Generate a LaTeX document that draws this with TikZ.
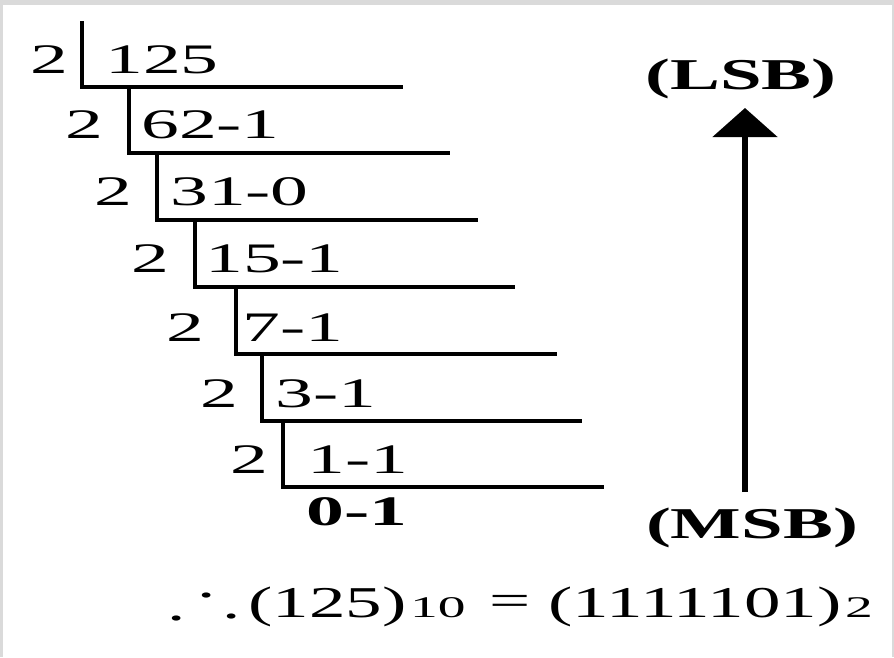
\documentclass[tikz,border=0pt]{standalone}
\usepackage{fontspec}
\setmainfont{Liberation Serif}
\newfontfamily\numfont[FakeStretch=1.8]{Liberation Serif}
\newfontfamily\labfont[FakeStretch=1.7]{Liberation Serif}
\newfontfamily\eqfont[FakeStretch=1.66]{Liberation Serif}
\newfontfamily\subfont[FakeStretch=1.85]{Liberation Serif}
\usetikzlibrary{arrows.meta}
\definecolor{framegray}{RGB}{218,218,218}
\begin{document}
\begin{tikzpicture}[x=1pt,y=-1pt,
  rule/.style={line width=3.5pt, line cap=butt, line join=miter},
  dv/.style={anchor=base west, inner sep=0pt, font=\numfont\fontsize{42}{42}\selectfont},
  dvb/.style={dv, font=\numfont\bfseries\fontsize{42}{42}\selectfont},
  lab/.style={anchor=base, inner sep=0pt, font=\labfont\bfseries\fontsize{44}{44}\selectfont},
  eq/.style={anchor=base west, inner sep=0pt, font=\eqfont\fontsize{44}{44}\selectfont},
  dot/.style={eq, anchor=base},
  sub/.style={anchor=base west, inner sep=0pt, font=\subfont\fontsize{30}{30}\selectfont},
  bigarrow/.style={line width=5.5pt, -{Triangle[width=64pt,length=29pt]}}]
\fill[framegray] (0,0) rectangle (894,657);
\fill[white] (3,5) rectangle (892,657);
\useasboundingbox (0,0) rectangle (894,657);

% divisors and quotients
\node[dv] (d1) at (30,73)  {2};  \node[dv] (q1) at (105,73)  {125};
\node[dv] (d2) at (65,138) {2};  \node[dv] (q2) at (141,138) {62-1};
\node[dv] (d3) at (94,205) {2};  \node[dv] (q3) at (170,205) {31-0};
\node[dv] (d4) at (131,272) {2}; \node[dv] (q4) at (205,272) {15-1};
\node[dv] (d5) at (166,341) {2}; \node[dv] (q5) at (242,341) {7-1};
\node[dv] (d6) at (200,407) {2}; \node[dv] (q6) at (275,407) {3-1};
\node[dv] (d7) at (230,473) {2}; \node[dv] (q7) at (307,473) {1-1};
\node[dvb] (q8) at (306,525) {0-1};

% division brackets
\draw[rule] (82,21)   -- (82,87)   -- (403,87);
\draw[rule] (129,87)  -- (129,153) -- (450,153);
\draw[rule] (157,153) -- (157,220) -- (478,220);
\draw[rule] (195,220) -- (195,287) -- (515,287);
\draw[rule] (236,287) -- (236,354) -- (557,354);
\draw[rule] (262,354) -- (262,421) -- (582,421);
\draw[rule] (283,421) -- (283,487) -- (604,487);

% LSB / MSB arrow
\node[lab] (lsb) at (741,89)  {(LSB)};
\node[lab] (msb) at (752,538) {(MSB)};
\coordinate (abot) at (745,492);
\coordinate (atop) at (745,108);
\draw[bigarrow] (abot) -- (atop);

% result
\node[dot] (t1) at (177,620) {.};
\node[dot] (t2) at (207,597) {.};
\node[dot] (t3) at (232,618) {.};
\node[eq] (n1) at (248,617) {(125)};
\node[sub] (b1) at (410,617) {10};
\node[eq] (es) at (489,615) {=};
\node[eq] (n2) at (548,617) {(1111101)};
\node[sub] (b2) at (845,617) {2};
\end{tikzpicture}
\end{document}
